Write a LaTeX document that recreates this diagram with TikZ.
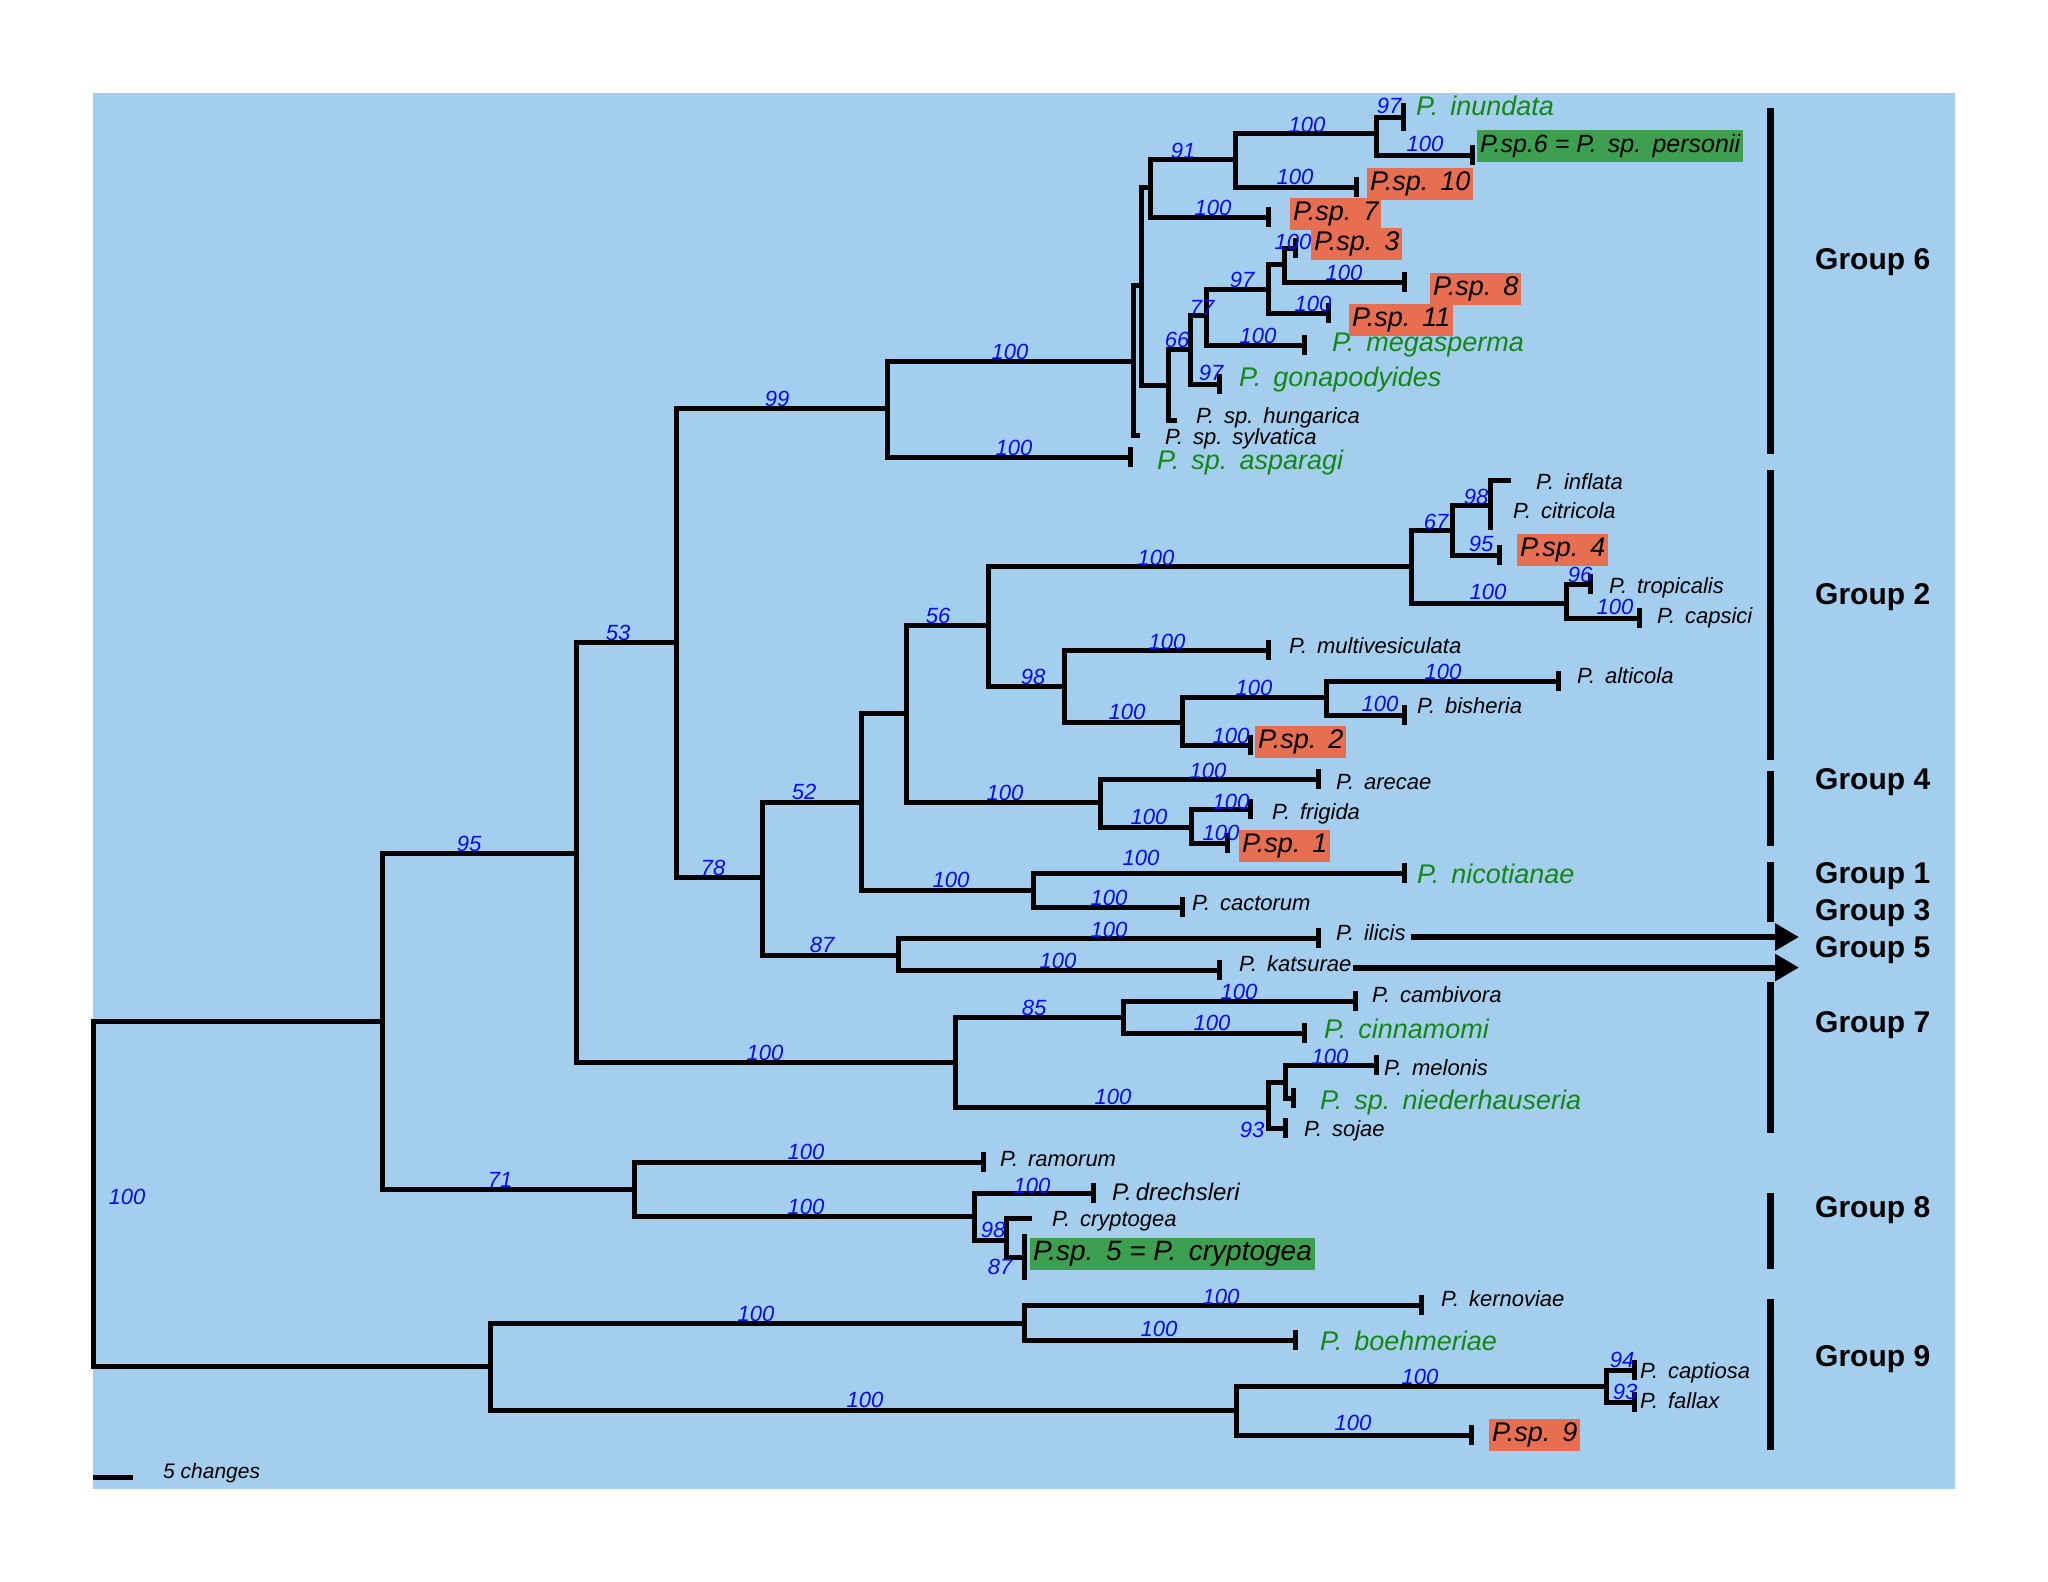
\documentclass[tikz,border=0pt]{standalone}
\usepackage{fontspec}
\setmainfont{Liberation Sans}
\usetikzlibrary{arrows.meta}
\definecolor{bgblue}{RGB}{163,206,238}
\definecolor{tgreen}{RGB}{20,135,20}
\definecolor{boxgreen}{RGB}{60,160,80}
\definecolor{boxorange}{RGB}{232,110,82}
\definecolor{bsblue}{RGB}{10,10,245}
\newcommand\wsp{\hspace{0.45em}}
\begin{document}
\begin{tikzpicture}[x=1pt,y=-1pt,
 br/.style={line width=5pt,line join=miter},
 tk/.style={line width=5pt},
 bs/.style={text=bsblue,font=\itshape\fontsize{22}{22}\selectfont,inner sep=0pt},
 lbig/.style={text=tgreen,font=\itshape\fontsize{27}{27}\selectfont,anchor=west,inner sep=0pt,text height=19pt,text depth=6pt},
 lsm/.style={font=\itshape\fontsize{22}{22}\selectfont,anchor=west,inner sep=0pt,text height=15pt,text depth=5pt},
 lbox/.style={font=\itshape\fontsize{27}{27}\selectfont,anchor=west,inner xsep=3pt,inner ysep=3.5pt,text height=19pt,text depth=6pt},
 grp/.style={font=\bfseries\fontsize{30}{30}\selectfont,anchor=west,inner sep=0pt},
 gbar/.style={line width=7pt},
 arr/.style={line width=6pt,-{Triangle[length=24pt,width=26pt]}}
]
\useasboundingbox (0,0) rectangle (2048,1582);
\fill[white] (0,0) rectangle (2048,1582);
\fill[bgblue] (93,93) rectangle (1955,1489);

% internal nodes
\coordinate (root) at (93,1190);
\coordinate (A) at (382,1021);
\coordinate (B) at (576,853);
\coordinate (C) at (634,1189);
\coordinate (D) at (490,1366);
\coordinate (E) at (676,642);
\coordinate (F) at (887,408);
\coordinate (M) at (1133,361);
\coordinate (N) at (1141.5,285);
\coordinate (O) at (1150,187);
\coordinate (U) at (1235,159);
\coordinate (V) at (1376,133);
\coordinate (P) at (1168,385);
\coordinate (Q) at (1190.6,349);
\coordinate (R) at (1206,315);
\coordinate (S) at (1268,289);
\coordinate (T) at (1284.4,264);
\coordinate (G) at (762,877);
\coordinate (H) at (861,802);
\coordinate (J) at (906,713);
\coordinate (K) at (988,625);
\coordinate (W) at (1411,566);
\coordinate (X) at (1452,530);
\coordinate (Y) at (1490,505);
\coordinate (Z) at (1566,603);
\coordinate (L) at (1064,686);
\coordinate (AA) at (1182,722);
\coordinate (AB) at (1326,697);
\coordinate (AC) at (1100,802);
\coordinate (AE) at (1191,827);
\coordinate (AD) at (1033,890);
\coordinate (I) at (898,955);
\coordinate (AF) at (955.5,1062);
\coordinate (AG) at (1123,1017);
\coordinate (AH) at (1268,1107);
\coordinate (AI) at (1285.5,1082);
\coordinate (AJ) at (974,1216);
\coordinate (AK) at (1006,1240);
\coordinate (AL) at (1024,1323);
\coordinate (AM) at (1236,1410);
\coordinate (AN) at (1606,1386);

% tips
\coordinate (tAsp) at (1130,457);
\coordinate (tSylv) at (1140,435);
\coordinate (tInund) at (1403,117);
\coordinate (tSp6) at (1472,155);
\coordinate (tSp10) at (1356,187);
\coordinate (tSp7) at (1268,217);
\coordinate (tHung) at (1177,420);
\coordinate (tGona) at (1219,384);
\coordinate (tMega) at (1304.5,345);
\coordinate (tSp11) at (1328,313);
\coordinate (tSp8) at (1404,282);
\coordinate (tSp3) at (1295,248);
\coordinate (tInfl) at (1511,480);
\coordinate (tCitr) at (1490,530);
\coordinate (tSp4) at (1499,555);
\coordinate (tTrop) at (1590,584);
\coordinate (tCaps) at (1639,618);
\coordinate (tMulti) at (1268,650);
\coordinate (tAlti) at (1558,681);
\coordinate (tBish) at (1404,715);
\coordinate (tSp2) at (1250,745);
\coordinate (tArec) at (1318,779);
\coordinate (tFrig) at (1250,809);
\coordinate (tSp1) at (1227,843);
\coordinate (tNico) at (1404,873);
\coordinate (tCact) at (1182,907);
\coordinate (tIlic) at (1318,938);
\coordinate (tKats) at (1219,970);
\coordinate (tCamb) at (1355,1001);
\coordinate (tCinn) at (1304,1033);
\coordinate (tMelo) at (1376,1065);
\coordinate (tNied) at (1293,1098);
\coordinate (tSoja) at (1285.5,1128);
\coordinate (tRamo) at (983,1162);
\coordinate (tDrec) at (1093,1193);
\coordinate (tCryp) at (1032,1218);
\coordinate (tSp5) at (1024,1257);
\coordinate (tKern) at (1421,1305);
\coordinate (tBoeh) at (1295,1340);
\coordinate (tCapt) at (1634,1370);
\coordinate (tFall) at (1634,1402);
\coordinate (tSp9) at (1471,1435);

% branches
\foreach \p/\c in {root/A,root/D,A/B,A/C,B/E,B/AF,E/F,E/G,F/M,F/tAsp,M/N,M/tSylv,
 N/O,N/P,O/U,O/tSp7,U/V,U/tSp10,V/tInund,V/tSp6,P/Q,P/tHung,Q/R,Q/tGona,R/S,R/tMega,
 S/T,S/tSp11,T/tSp3,T/tSp8,G/H,G/I,H/J,H/AD,J/K,J/AC,K/W,K/L,W/X,W/Z,X/Y,X/tSp4,
 Y/tInfl,Y/tCitr,Z/tTrop,Z/tCaps,L/tMulti,L/AA,AA/AB,AA/tSp2,AB/tAlti,AB/tBish,
 AC/tArec,AC/AE,AE/tFrig,AE/tSp1,AD/tNico,AD/tCact,I/tIlic,I/tKats,AF/AG,AF/AH,
 AG/tCamb,AG/tCinn,AH/AI,AH/tSoja,AI/tMelo,AI/tNied,C/tRamo,C/AJ,AJ/tDrec,AJ/AK,
 AK/tCryp,AK/tSp5,D/AL,D/AM,AL/tKern,AL/tBoeh,AM/AN,AM/tSp9,AN/tCapt,AN/tFall}
 {\draw[br] (\p) |- (\c);}

% tip ticks
\foreach \t in {tAsp,tSp6,tSp10,tSp7,tGona,tMega,tSp11,tSp8,tSp3,tSp4,tTrop,tCaps,
 tMulti,tAlti,tBish,tSp2,tArec,tFrig,tSp1,tNico,tCact,tIlic,tKats,tCamb,tCinn,tMelo,
 tNied,tSoja,tRamo,tDrec,tKern,tBoeh,tCapt,tFall,tSp9}
 {\draw[tk] ([yshift=-10pt]\t) -- ([yshift=10pt]\t);}
\draw[tk] ([yshift=-14pt]tInund) -- ([yshift=14pt]tInund);
\draw[tk] ([yshift=-23pt]tSp5) -- ([yshift=23pt]tSp5);

% taxon labels
\node[lbig] (nInund) at (1416,109) {P.\wsp inundata};
\node[lbox,fill=boxgreen,font=\itshape\fontsize{25}{25}\selectfont] (nSp6) at (1477,146) {P.sp.6 = P.\wsp sp.\wsp personii};
\node[lbox,fill=boxorange] (nSp10) at (1367,184) {P.sp.\wsp 10};
\node[lbox,fill=boxorange] (nSp7) at (1290,214) {P.sp.\wsp 7};
\node[lbox,fill=boxorange] (nSp3) at (1311,244) {P.sp.\wsp 3};
\node[lbox,fill=boxorange] (nSp8) at (1430,289) {P.sp.\wsp 8};
\node[lbox,fill=boxorange] (nSp11) at (1349,320) {P.sp.\wsp 11};
\node[lbig] (nMega) at (1332,345) {P.\wsp megasperma};
\node[lbig] (nGona) at (1239,380) {P.\wsp gonapodyides};
\node[lsm,text height=14pt,text depth=3pt] (nHung) at (1196,418) {P.\wsp sp.\wsp hungarica};
\node[lsm,text height=14pt,text depth=3pt] (nSylv) at (1165,439) {P.\wsp sp.\wsp sylvatica};
\node[lbig] (nAsp) at (1157,463) {P.\wsp sp.\wsp asparagi};
\node[lsm] (nInfl) at (1536,484) {P.\wsp inflata};
\node[lsm] (nCitr) at (1513,513) {P.\wsp citricola};
\node[lbox,fill=boxorange] (nSp4) at (1517,550) {P.sp.\wsp 4};
\node[lsm] (nTrop) at (1609,588) {P.\wsp tropicalis};
\node[lsm] (nCaps) at (1657,618) {P.\wsp capsici};
\node[lsm] (nMulti) at (1289,648) {P.\wsp multivesiculata};
\node[lsm] (nAlti) at (1577,678) {P.\wsp alticola};
\node[lsm] (nBish) at (1417,708) {P.\wsp bisheria};
\node[lbox,fill=boxorange] (nSp2) at (1255,742) {P.sp.\wsp 2};
\node[lsm] (nArec) at (1336,784) {P.\wsp arecae};
\node[lsm] (nFrig) at (1272,814) {P.\wsp frigida};
\node[lbox,fill=boxorange] (nSp1) at (1239,846) {P.sp.\wsp 1};
\node[lbig] (nNico) at (1417,877) {P.\wsp nicotianae};
\node[lsm] (nCact) at (1192,905) {P.\wsp cactorum};
\node[lsm] (nIlic) at (1336,935) {P.\wsp ilicis};
\node[lsm] (nKats) at (1239,966) {P.\wsp katsurae};
\node[lsm] (nCamb) at (1372,997) {P.\wsp cambivora};
\node[lbig] (nCinn) at (1324,1032) {P.\wsp cinnamomi};
\node[lsm] (nMelo) at (1384,1070) {P.\wsp melonis};
\node[lbig] (nNied) at (1320,1103) {P.\wsp sp.\wsp niederhauseria};
\node[lsm] (nSoja) at (1304,1131) {P.\wsp sojae};
\node[lsm] (nRamo) at (1000,1161) {P.\wsp ramorum};
\node[lsm,font=\itshape\fontsize{24}{24}\selectfont] (nDrec) at (1112,1195) {P.\,drechsleri};
\node[lsm] (nCryp) at (1052,1221) {P.\wsp cryptogea};
\node[lbox,fill=boxgreen,font=\itshape\fontsize{28}{28}\selectfont] (nSp5) at (1030,1254) {P.sp.\wsp 5 = P.\wsp cryptogea};
\node[lsm] (nKern) at (1441,1301) {P.\wsp kernoviae};
\node[lbig] (nBoeh) at (1320,1344) {P.\wsp boehmeriae};
\node[lsm] (nCapt) at (1640,1373) {P.\wsp captiosa};
\node[lsm] (nFall) at (1640,1403) {P.\wsp fallax};
\node[lbox,fill=boxorange] (nSp9) at (1489,1435) {P.sp.\wsp 9};

% bootstrap values
\foreach \x/\y/\v [count=\i] in {
 1183/151/91,1307/125/100,1389/106/97,1425/144/100,1295/177/100,1213/208/100,
 1293/242/100,1344/273/100,1242/280/97,1313/304/100,1202/308/77,1258/336/100,
 1177/340/66,1211/373/97,1010/352/100,1014/448/100,777/399/99,618/633/53,
 469/844/95,127/1197/100,713/868/78,804/792/52,822/945/87,938/616/56,
 1156/558/100,1436/522/67,1476/497/98,1481/544/95,1488/592/100,1580/575/96,
 1615/607/100,1033/677/98,1167/642/100,1127/712/100,1254/688/100,1443/672/100,
 1380/704/100,1231/736/100,1005/793/100,1208/771/100,1149/817/100,1231/802/100,
 1221/833/100,951/880/100,1141/858/100,1109/898/100,1109/930/100,1058/961/100,
 765/1053/100,1034/1008/85,1239/992/100,1212/1023/100,1113/1097/100,1330/1057/100,
 1252/1130/93,500/1180/71,806/1152/100,806/1207/100,1032/1186/100,993/1230/98,
 1000/1267/87,756/1314/100,1221/1297/100,1159/1329/100,865/1400/100,1420/1377/100,
 1622/1360/94,1625/1392/93,1353/1423/100}
 {\node[bs] (bs\i) at (\x,\y) {\v};}

% arrows to groups 3 and 5
\coordinate (aIlic) at (1799,937);
\coordinate (aKats) at (1799,967.5);
\draw[arr] ([xshift=5pt]nIlic.east |- aIlic) -- (aIlic);
\draw[arr] ([xshift=1pt]nKats.east |- aKats) -- (aKats);

% group bars
\coordinate (g6t) at (1770,108); \coordinate (g6b) at (1770,454);
\coordinate (g2t) at (1770,470); \coordinate (g2b) at (1770,760);
\coordinate (g4t) at (1770,771); \coordinate (g4b) at (1770,846);
\coordinate (g1t) at (1770,862); \coordinate (g1b) at (1770,922);
\coordinate (g7t) at (1770,982); \coordinate (g7b) at (1770,1133);
\coordinate (g8t) at (1770,1193); \coordinate (g8b) at (1770,1269);
\coordinate (g9t) at (1770,1299); \coordinate (g9b) at (1770,1450);
\foreach \a/\b in {g6t/g6b,g2t/g2b,g4t/g4b,g1t/g1b,g7t/g7b,g8t/g8b,g9t/g9b}
 {\draw[gbar] (\a) -- (\b);}

% group labels
\node[grp] (G6) at (1815,262) {Group 6};
\node[grp] (G2) at (1815,597) {Group 2};
\node[grp] (G4) at (1815,782) {Group 4};
\node[grp] (G1) at (1815,876) {Group 1};
\node[grp] (G3) at (1815,913) {Group 3};
\node[grp] (G5) at (1815,950) {Group 5};
\node[grp] (G7) at (1815,1025) {Group 7};
\node[grp] (G8) at (1815,1210) {Group 8};
\node[grp] (G9) at (1815,1359) {Group 9};

% scale bar
\coordinate (sb1) at (93,1477);
\coordinate (sb2) at (133,1477);
\draw[line width=5pt] (sb1) -- (sb2);
\node[lsm,font=\itshape\fontsize{21}{21}\selectfont] (sbl) at (163,1473) {5 changes};
\end{tikzpicture}
\end{document}
